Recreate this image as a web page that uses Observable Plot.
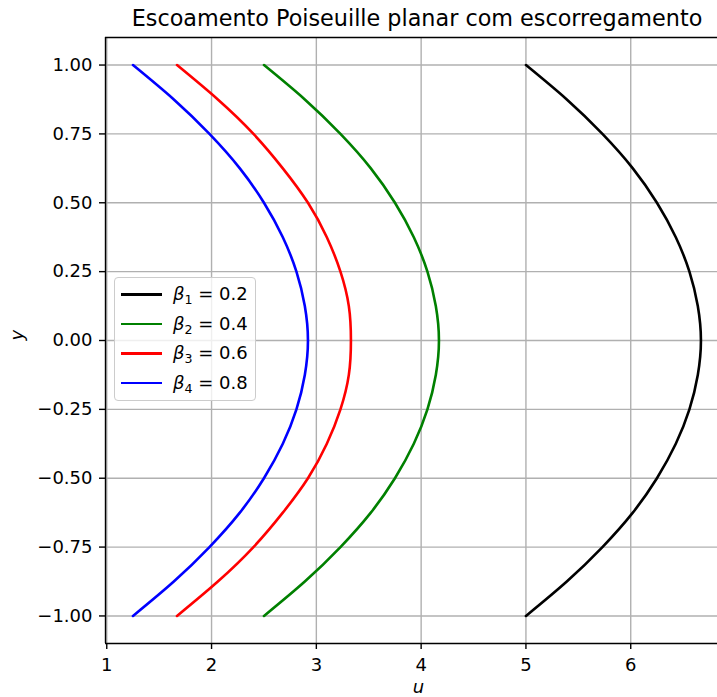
<!DOCTYPE html>
<html><head><meta charset="utf-8">
<script src="https://cdn.jsdelivr.net/npm/d3@7"></script>
<script src="https://cdn.jsdelivr.net/npm/@observablehq/plot@0.6"></script>
<style>
html,body{margin:0;padding:0;background:#fff;overflow:hidden;}
#wrap{position:relative;width:717px;height:697px;font-family:"DejaVu Sans",sans-serif;color:#000;}
#title{height:36px;box-sizing:border-box;padding-left:117px;padding-top:5px;text-align:center;font-size:22.3px;line-height:26px;white-space:nowrap;}
#legend{position:absolute;left:114px;top:277px;width:140px;height:122px;background:rgba(255,255,255,0.8);border:1px solid #cccccc;border-radius:4px;}
.row{position:absolute;left:0;height:29px;width:140px;}
.sw{position:absolute;left:5.5px;top:13px;width:41px;height:2.7px;}
.lt{position:absolute;left:58px;top:2px;font-size:18px;line-height:24px;white-space:nowrap;}
.lt i{font-style:italic;}
.lt sub{font-size:70%;vertical-align:-0.3em;line-height:0;}
</style></head><body>
<div id="wrap">
<div id="title"></div>
<div id="chart"></div>
<div id="legend"></div>
</div>
<script>
const titleText = "Escoamento Poiseuille planar com escorregamento";
const xLabel = "u";
const yLabel = "y";

const yPts = [-1, -0.875, -0.75, -0.625, -0.5, -0.375, -0.25, -0.125, 0, 0.125, 0.25, 0.375, 0.5, 0.625, 0.75, 0.875, 1];
const u1 = [5.00, 5.39, 5.73, 6.02, 6.25, 6.43, 6.56, 6.64, 6.67, 6.64, 6.56, 6.43, 6.25, 6.02, 5.73, 5.39, 5.00];
const u2 = [2.50, 2.89, 3.23, 3.52, 3.75, 3.93, 4.06, 4.14, 4.17, 4.14, 4.06, 3.93, 3.75, 3.52, 3.23, 2.89, 2.50];
const u3 = [1.67, 2.06, 2.40, 2.68, 2.92, 3.10, 3.23, 3.31, 3.33, 3.31, 3.23, 3.10, 2.92, 2.68, 2.40, 2.06, 1.67];
const u4 = [1.25, 1.64, 1.98, 2.27, 2.50, 2.68, 2.81, 2.89, 2.92, 2.89, 2.81, 2.68, 2.50, 2.27, 1.98, 1.64, 1.25];

const seriesNames = ["b1", "b2", "b3", "b4"];
const seriesSub = ["1", "2", "3", "4"];
const seriesBeta = ["0.2", "0.4", "0.6", "0.8"];
const seriesColors = ["#000000", "#008000", "#ff0000", "#0000ff"];
const seriesU = [u1, u2, u3, u4];

const xTicks = [1, 2, 3, 4, 5, 6];
const yTicks = [-1, -0.75, -0.5, -0.25, 0, 0.25, 0.5, 0.75, 1];
const xLimits = [0.988, 6.828];
const yLimits = [-1.1, 1.1];

const rows = seriesNames.flatMap((n, i) => yPts.map((y, j) => ({name: n, y, u: seriesU[i][j]})));

document.getElementById("title").textContent = titleText;

const plot = Plot.plot({
  width: 717,
  height: 661,
  marginLeft: 105,
  marginRight: 0,
  marginTop: 1,
  marginBottom: 54,
  style: {fontFamily: "DejaVu Sans, sans-serif", fontSize: "18px", color: "#000", background: "#fff", overflow: "visible"},
  x: {domain: xLimits},
  y: {domain: yLimits},
  color: {domain: seriesNames, range: seriesColors},
  marks: [
    Plot.gridX(xTicks, {stroke: "#b0b0b0", strokeOpacity: 1, strokeWidth: 1.4}),
    Plot.gridY(yTicks, {stroke: "#b0b0b0", strokeOpacity: 1, strokeWidth: 1.4}),
    Plot.line(rows, {x: "u", y: "y", z: "name", stroke: "name", strokeWidth: 2.6, curve: "natural"}),
    Plot.ruleX([xLimits[0]], {stroke: "#000", strokeWidth: 1.4}),
    Plot.ruleY(yLimits, {stroke: "#000", strokeWidth: 1.4}),
    Plot.axisX(xTicks, {tickSize: 6, tickPadding: 9, strokeWidth: 1.4, fontSize: 18, tickFormat: d3.format("d"), label: null}),
    Plot.axisY(yTicks, {tickSize: 6, tickPadding: 7, strokeWidth: 1.4, fontSize: 18, tickFormat: d3.format(".2f"), label: null}),
    Plot.text([xLabel], {frameAnchor: "bottom", lineAnchor: "middle", text: d => d, dy: 44, dx: 7, fontSize: 18, fontStyle: "italic"}),
    Plot.text([yLabel], {frameAnchor: "left", text: d => d, dx: -88, rotate: -90, fontSize: 18, fontStyle: "italic"})
  ]
});
document.getElementById("chart").appendChild(plot);

const leg = document.getElementById("legend");
seriesNames.forEach((n, i) => {
  const r = document.createElement("div");
  r.className = "row";
  r.style.top = (2.2 + i * 29.5) + "px";
  r.innerHTML = `<div class="sw" style="background:${seriesColors[i]}"></div><div class="lt"><i>β</i><sub>${seriesSub[i]}</sub> = ${seriesBeta[i]}</div>`;
  leg.appendChild(r);
});
</script>
</body></html>
